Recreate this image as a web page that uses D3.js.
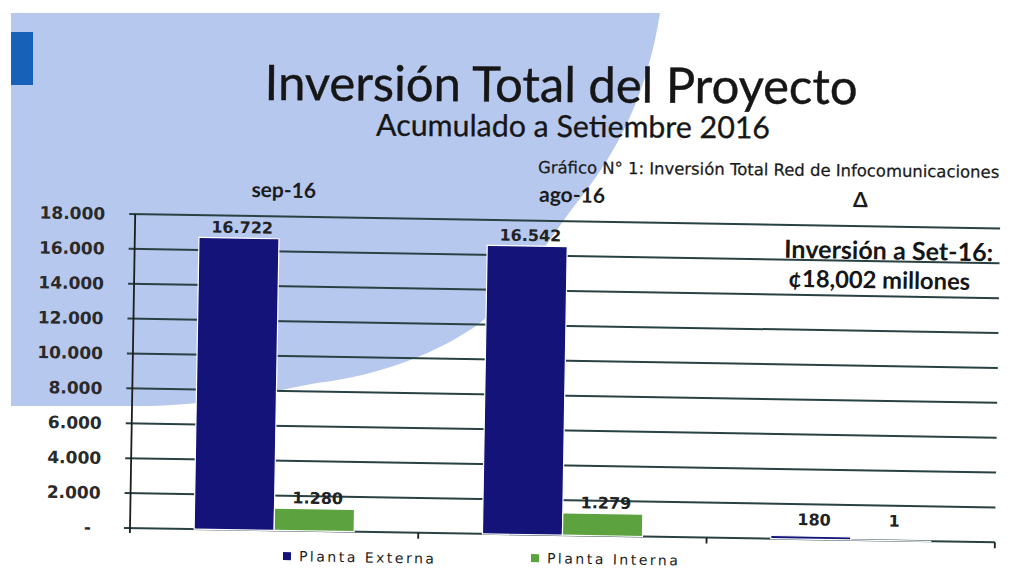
<!DOCTYPE html>
<html>
<head>
<meta charset="utf-8">
<script src="https://cdn.jsdelivr.net/npm/d3@7"></script>
<style>
  body { margin: 0; background: #fff; }
  svg { display: block; }
</style>
</head>
<body>
<div id="chart"></div>
<script>

// data
var categories = ["sep-16", "ago-16", "\u0394"];
var seriesNames = ["Planta Externa", "Planta Interna"];
var externa = [16722, 16542, 180];
var interna = [1280, 1279, 1];
var yTicks = [0, 2000, 4000, 6000, 8000, 10000, 12000, 14000, 16000, 18000];

var colors = {"Planta Externa": "#131379", "Planta Interna": "#5ca33f"};

var W = 1014, H = 570;
var plot = {left: 130, right: 995, top: 214, bottom: 528};

var svg = d3.select("#chart").append("svg")
    .attr("width", W)
    .attr("height", H);

// scanned page background: pale blue sheet in the top-left
svg.append("path")
    .attr("d", "M11,13 L660,13 C648,90 620,150 575,205 C545,245 515,295 480,323 " +
               "C440,352 380,376 317,383 C280,390 220,404 150,406 L11,406 Z")
    .attr("fill", "#b7c8ee");

svg.append("rect")
    .attr("x", 11).attr("y", 32)
    .attr("width", 22).attr("height", 53)
    .attr("fill", "#1761b9");

// fit a text to a given pixel width by changing its font size
function fitWidth(sel, w) {
    var len = sel.node().getComputedTextLength();
    var fs = parseFloat(sel.attr("font-size"));
    sel.attr("font-size", (fs * w / len).toFixed(2));
}

var title = svg.append("text")
    .attr("x", 561).attr("y", 102)
    .attr("text-anchor", "middle")
    .attr("font-family", "Lato, sans-serif")
    .attr("font-size", 40)
    .attr("fill", "#161616")
    .attr("stroke", "#161616")
    .attr("stroke-width", 0.4)
    .attr("transform", "rotate(0.4, 561, 102)")
    .text("Inversión Total del Proyecto");
fitWidth(title, 593);

var subtitle = svg.append("text")
    .attr("x", 573).attr("y", 137)
    .attr("text-anchor", "middle")
    .attr("font-family", "Lato, sans-serif")
    .attr("font-size", 26)
    .attr("fill", "#161616")
    .attr("stroke", "#161616")
    .attr("stroke-width", 0.3)
    .attr("transform", "rotate(0.4, 573, 137)")
    .text("Acumulado a Setiembre 2016");
fitWidth(subtitle, 394);

var caption = svg.append("text")
    .attr("x", 538).attr("y", 173)
    .attr("font-family", "'DejaVu Sans', sans-serif")
    .attr("font-size", 11)
    .attr("fill", "#1a1a1a")
    .attr("stroke", "#1a1a1a")
    .attr("stroke-width", 0.25)
    .attr("transform", "rotate(0.6, 538, 173)")
    .text("Gráfico N° 1: Inversión Total Red de Infocomunicaciones");
fitWidth(caption, 462);

// the whole chart is slightly tilted in the scan
var g = svg.append("g")
    .attr("transform", "rotate(0.95, " + plot.left + ", " + plot.bottom + ")");

var x = d3.scaleBand()
    .domain(categories)
    .range([plot.left, plot.right])
    .paddingInner(0.445)
    .paddingOuter(0.2225);

var xs = d3.scaleBand()
    .domain(seriesNames)
    .range([0, x.bandwidth()]);

var y = d3.scaleLinear()
    .domain([0, 18000])
    .range([plot.bottom, plot.top]);

var fmt = d3.formatLocale({decimal: ",", thousands: ".", grouping: [3], currency: ["", ""]}).format(",.0f");

//gridlines
g.selectAll(".grid")
    .data(yTicks)
    .enter().append("line")
    .attr("class", "grid")
    .attr("x1", plot.left - 6)
    .attr("x2", plot.right)
    .attr("y1", function(d) { return y(d); })
    .attr("y2", function(d) { return y(d); })
    .attr("stroke", "#2a4143")
    .attr("stroke-width", 2);

// y axis line
g.append("line")
    .attr("x1", plot.left).attr("x2", plot.left)
    .attr("y1", plot.top).attr("y2", plot.bottom + 5)
    .attr("stroke", "#1d1d1d")
    .attr("stroke-width", 1.8);

// y tick labels (zero shows as a dash, accounting style)
g.selectAll(".ylab")
    .data(yTicks)
    .enter().append("text")
    .attr("class", "ylab")
    .attr("x", function(d) { return d === 0 ? 91 : 100; })
    .attr("y", function(d) { return y(d); })
    .attr("dy", "0.36em")
    .attr("text-anchor", "end")
    .attr("font-family", "'DejaVu Sans', sans-serif")
    .attr("font-weight", "bold")
    .attr("font-size", 17)
    .attr("fill", "#2a2a2a")
    .text(function(d) { return d === 0 ? "-" : fmt(d); });

// category ticks on the baseline
g.selectAll(".xtick")
    .data(categories)
    .enter().append("line")
    .attr("class", "xtick")
    .attr("x1", function(d) { return x(d) - x.step() * x.paddingOuter() + x.step(); })
    .attr("x2", function(d) { return x(d) - x.step() * x.paddingOuter() + x.step(); })
    .attr("y1", plot.bottom)
    .attr("y2", plot.bottom + 6)
    .attr("stroke", "#1d1d1d")
    .attr("stroke-width", 1.8);

// category labels sit above the plot
g.selectAll(".xlab")
    .data(categories)
    .enter().append("text")
    .attr("class", "xlab")
    .attr("x", function(d) { return x(d) + x.bandwidth() / 2 + 4; })
    .attr("y", 195)
    .attr("text-anchor", "middle")
    .attr("font-family", "Lato, sans-serif")
    .attr("font-weight", "bold")
    .attr("font-size", 21)
    .attr("fill", "#1c1c1c")
    .text(function(d) { return d; });

// bars
var rows = categories.map(function(c, i) {
    return {cat: c, values: [
        {name: seriesNames[0], value: externa[i]},
        {name: seriesNames[1], value: interna[i]}
    ]};
});

var groups = g.selectAll(".cat")
    .data(rows)
    .enter().append("g")
    .attr("class", "cat")
    .attr("transform", function(d) { return "translate(" + x(d.cat) + ",0)"; });

groups.selectAll("rect")
    .data(function(d) { return d.values; })
    .enter().append("rect")
    .attr("x", function(d) { return xs(d.name); })
    .attr("y", function(d) { return y(d.value); })
    .attr("width", xs.bandwidth())
    .attr("height", function(d) { return plot.bottom - y(d.value); })
    .attr("fill", function(d) { return colors[d.name]; })
    .attr("stroke", "#fff")
    .attr("stroke-width", 1.2);

groups.selectAll(".vlab")
    .data(function(d) { return d.values; })
    .enter().append("text")
    .attr("class", "vlab")
    .attr("x", function(d) { return xs(d.name) + xs.bandwidth() / 2 + 3; })
    .attr("y", function(d) { return Math.min(y(d.value) - 5, plot.bottom - 14); })
    .attr("text-anchor", "middle")
    .attr("font-family", "'DejaVu Sans', sans-serif")
    .attr("font-weight", "bold")
    .attr("font-size", 16)
    .attr("fill", "#222")
    .text(function(d) { return fmt(d.value); });

// note on the right
var note1 = g.append("text")
    .attr("x", 884).attr("y", 247)
    .attr("text-anchor", "middle")
    .attr("font-family", "Lato, sans-serif")
    .attr("font-weight", "bold")
    .attr("font-size", 19)
    .attr("fill", "#161616")
    .text("Inversión a Set-16:");
fitWidth(note1, 209);

var note2 = g.append("text")
    .attr("x", 875).attr("y", 276)
    .attr("text-anchor", "middle")
    .attr("font-family", "Lato, sans-serif")
    .attr("font-weight", "bold")
    .attr("font-size", 19)
    .attr("fill", "#161616")
    .text("¢18,002 millones");
fitWidth(note2, 182);

// legend, kept out of the tilt so it stays inside the page
var legendX = [283, 531];
var legendY = [556, 558];
var legend = svg.selectAll(".leg")
    .data(seriesNames)
    .enter().append("g")
    .attr("class", "leg")
    .attr("transform", function(d, i) { return "translate(" + legendX[i] + "," + legendY[i] + ") rotate(0.95)"; });

legend.append("rect")
    .attr("x", 0).attr("y", -4)
    .attr("width", 8).attr("height", 8)
    .attr("fill", function(d) { return colors[d]; });

legend.append("text")
    .attr("x", 16)
    .attr("y", 0)
    .attr("dy", "0.36em")
    .attr("font-family", "'DejaVu Sans', sans-serif")
    .attr("font-size", 14)
    .attr("letter-spacing", 2.5)
    .attr("fill", "#1c1c1c")
    .text(function(d) { return d; });

</script>
</body>
</html>
